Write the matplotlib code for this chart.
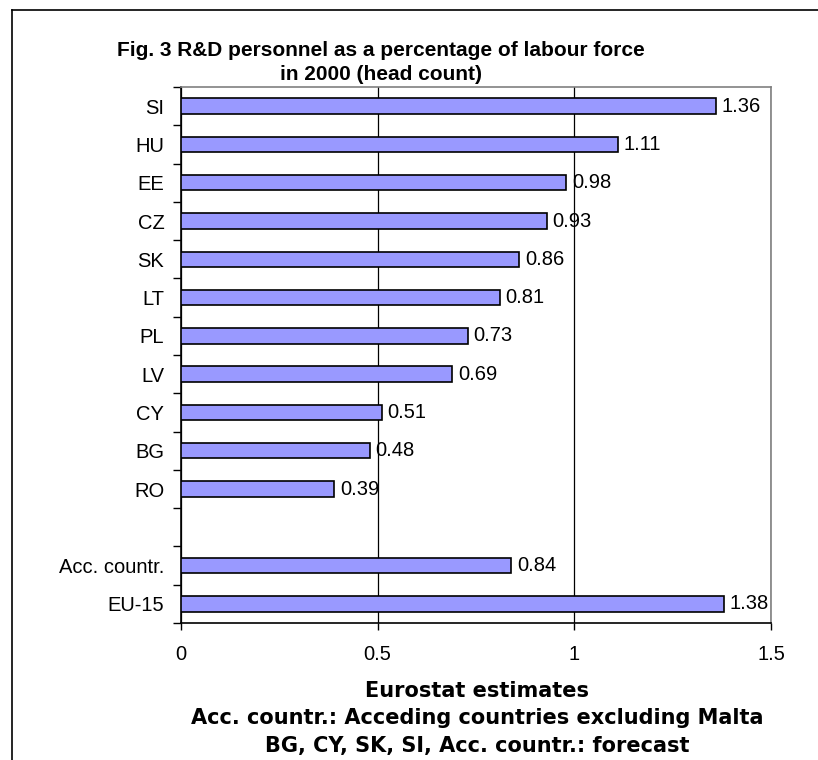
import matplotlib
matplotlib.use("Agg")
import matplotlib.pyplot as plt
from matplotlib.lines import Line2D
import numpy as np

plt.rcParams['font.family'] = ['Liberation Sans', 'DejaVu Sans']

categories = ["SI", "HU", "EE", "CZ", "SK", "LT", "PL", "LV", "CY", "BG", "RO",
              "", "Acc. countr.", "EU-15"]
values = [1.36, 1.11, 0.98, 0.93, 0.86, 0.81, 0.73, 0.69, 0.51, 0.48, 0.39,
          None, 0.84, 1.38]
x_ticks = [0, 0.5, 1, 1.5]
x_tick_labels = ["0", "0.5", "1", "1.5"]

title_lines = ["Fig. 3 R&D personnel as a percentage of labour force",
               "in 2000 (head count)"]
footer = ["Eurostat estimates",
          "Acc. countr.: Acceding countries excluding Malta",
          "BG, CY, SK, SI, Acc. countr.: forecast"]

W, H = 818, 760
fig = plt.figure(figsize=(W / 100, H / 100), dpi=100)
ax = fig.add_axes([181 / W, 1 - 623 / H, (771 - 181) / W, (623 - 87) / H])

label_size = 14.5
pos = np.arange(len(categories))
for y, v in zip(pos, values):
    if v is None:
        continue
    ax.barh(y, v, height=0.4, color="#9999FF", edgecolor="black", linewidth=1.2, zorder=3)
    ax.text(v + 0.014, y, f"{v:.2f}", va="center", ha="left", fontsize=label_size, zorder=4)

ax.set_xlim(0, 1.5)
ax.set_ylim(len(categories) - 0.5, -0.5)

ax.set_xticks(x_ticks)
ax.set_xticklabels(x_tick_labels, fontsize=label_size)
ax.tick_params(axis="x", direction="out", length=5, width=1, pad=11, color="black")

ax.set_yticks(pos)
ax.set_yticklabels(categories, fontsize=label_size)
ax.tick_params(axis="y", which="major", length=0, pad=12)
ax.set_yticks(np.arange(-0.5, len(categories), 1.0), minor=True)
ax.tick_params(axis="y", which="minor", direction="out", length=6, width=1, color="black")

ax.grid(axis="x", color="black", linewidth=0.9, zorder=0)
for side in ("left", "bottom"):
    ax.spines[side].set_color("black")
    ax.spines[side].set_linewidth(1.2)
for side in ("top", "right"):
    ax.spines[side].set_color("#808080")
    ax.spines[side].set_linewidth(1.2)

for i, line in enumerate(title_lines):
    fig.text(381 / W, 1 - (51 + 24 * i) / H, line, ha="center", va="center",
             fontsize=15, fontweight="bold")

for i, line in enumerate(footer):
    fig.text(477 / W, 1 - (691 + 27.5 * i) / H, line, ha="center", va="center",
             fontsize=15, fontweight="bold", family="DejaVu Sans")

# outer chart frame (top and left edges)
fig.add_artist(Line2D([12 / W, 1.0], [1 - 10 / H, 1 - 10 / H], color="black",
                      linewidth=1.2, transform=fig.transFigure))
fig.add_artist(Line2D([12 / W, 12 / W], [0.0, 1 - 10 / H], color="black",
                      linewidth=1.2, transform=fig.transFigure))

fig.savefig("out.png", dpi=100)
